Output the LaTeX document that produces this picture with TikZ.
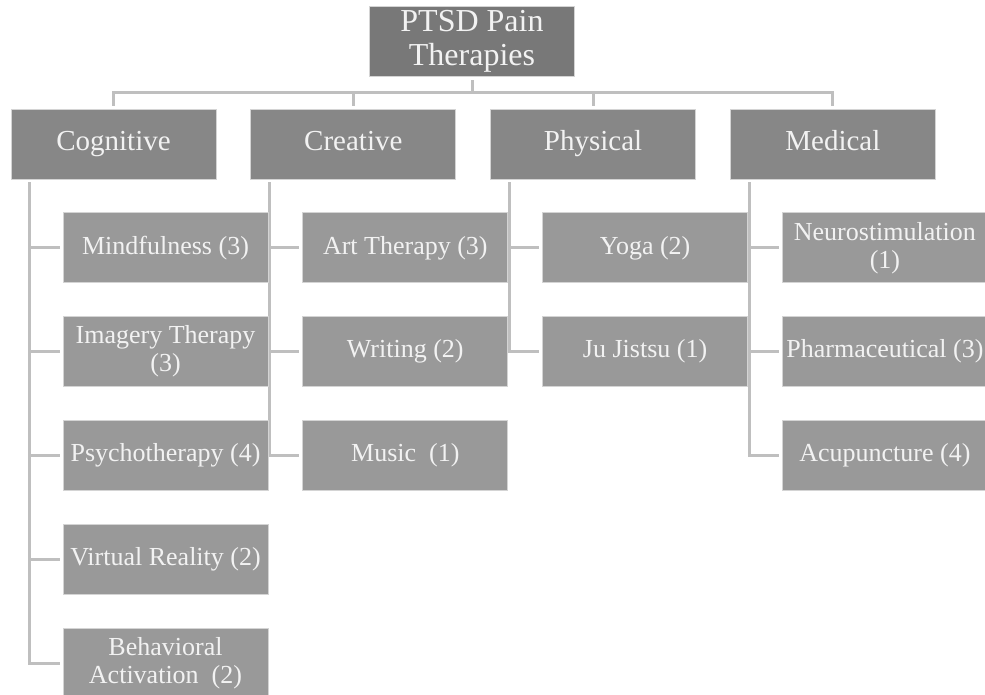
\documentclass[tikz,border=0pt]{standalone}
\usepackage{fontspec}
\setmainfont{Liberation Serif}
\usepackage{tikz}
\usetikzlibrary{positioning, backgrounds}
\definecolor{rootgray}{HTML}{787878}
\definecolor{catgray}{HTML}{878787}
\definecolor{leafgray}{HTML}{999999}
\definecolor{linkgray}{HTML}{BFBFBF}
\definecolor{edgegray}{HTML}{D4D4D4}

\begin{document}
\begin{tikzpicture}[
  x=1pt, y=-1pt,
  node distance=33pt and 34pt,
  box/.style={draw=edgegray, line width=0.8pt, text=white!95!black, align=center,
    minimum width=205pt, minimum height=70pt, inner sep=1pt},
  root/.style={box, fill=rootgray, font=\fontsize{32}{34}\selectfont},
  cat/.style={box, fill=catgray, font=\fontsize{29}{31}\selectfont,
    text height=20pt, text depth=7pt},
  leaf/.style={box, fill=leafgray, font=\fontsize{26}{28}\selectfont},
  link/.style={draw=linkgray, line width=3pt}
]
\useasboundingbox (0,0) rectangle (985,694);

% top and categories
\node[root] (root) at (472,41) {PTSD Pain\\Therapies};
\node[cat] (cog) at (113.5,144) {Cognitive};
\node[cat, right=of cog] (cre) {Creative};
\node[cat, right=of cre] (phy) {Physical};
\node[cat, right=of phy] (med) {Medical};

% cognitive
\node[leaf, below=of cog, xshift=52pt] (mind) {Mindfulness (3)};
\node[leaf, below=of mind] (imag) {Imagery Therapy\\(3)};
\node[leaf, below=of imag] (psych) {Psychotherapy (4)};
\node[leaf, below=of psych] (vr) {Virtual Reality (2)};
\node[leaf, below=of vr] (behav) {Behavioral\\Activation\ \ (2)};

% creative
\node[leaf, below=of cre, xshift=52pt] (art) {Art Therapy (3)};
\node[leaf, below=of art] (writ) {Writing (2)};
\node[leaf, below=of writ] (music) {Music\ \ (1)};

% physical
\node[leaf, below=of phy, xshift=52pt] (yoga) {Yoga (2)};
\node[leaf, below=of yoga] (jits) {Ju Jistsu (1)};

% medical
\node[leaf, below=of med, xshift=52pt] (neuro) {Neurostimulation\\(1)};
\node[leaf, below=of neuro] (pharm) {Pharmaceutical (3)};
\node[leaf, below=of pharm] (acu) {Acupuncture (4)};

\begin{scope}[on background layer]
\foreach \c in {cog,cre,phy,med}
  \draw[link] ([yshift=-4pt]root.south) -- ++(0,12) -| ([yshift=3pt]\c.north);
\foreach \p/\k in {cog/mind, cog/imag, cog/psych, cog/vr, cog/behav,
    cre/art, cre/writ, cre/music, phy/yoga, phy/jits,
    med/neuro, med/pharm, med/acu}
  \draw[link] ([xshift=19pt,yshift=-3pt]\p.south west) |- ([xshift=-3pt]\k.west);
\end{scope}
\end{tikzpicture}
\end{document}
